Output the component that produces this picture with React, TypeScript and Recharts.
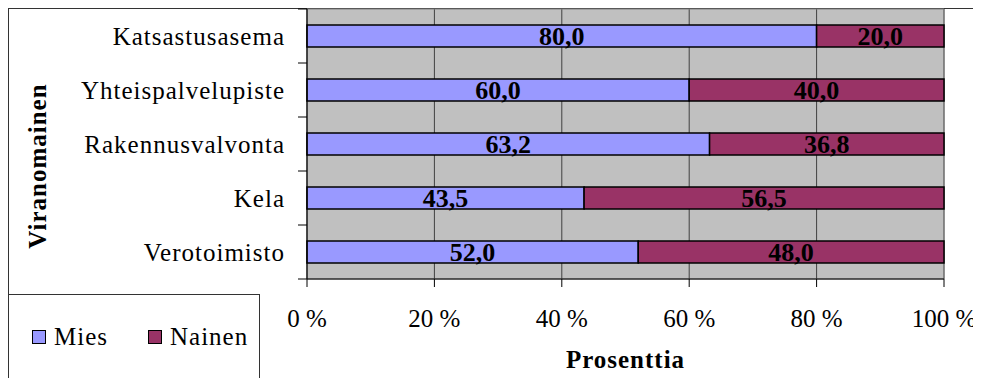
import React from 'react';
import {
  BarChart,
  Bar,
  XAxis,
  YAxis,
  CartesianGrid,
  Legend,
  LabelList,
  ReferenceArea,
  Label,
} from 'recharts';

const categories = ['Katsastusasema', 'Yhteispalvelupiste', 'Rakennusvalvonta', 'Kela', 'Verotoimisto'];
const mies = [80.0, 60.0, 63.2, 43.5, 52.0];
const nainen = [20.0, 40.0, 36.8, 56.5, 48.0];
const xTicks = [0, 20, 40, 60, 80, 100];

const SERIES = [
  { key: 'Mies', color: '#9999FF' },
  { key: 'Nainen', color: '#993366' },
];

const FONT = '"Liberation Serif", "Times New Roman", serif';

const data = categories.map((name, i) => ({ name, Mies: mies[i], Nainen: nainen[i] }));

const fmt = (v: number) => v.toFixed(1).replace('.', ',');

// category labels plus Excel-style tick marks between categories
function CategoryTick(props: any) {
  const { x, y, payload, index } = props;
  const off = payload.offset ?? 0;
  return (
    <g>
      <text
        x={x}
        y={y}
        textAnchor="end"
        dominantBaseline="central"
        fontSize={25}
        letterSpacing={1}
        fill="#000"
        fontFamily={FONT}
      >
        {payload.value}
      </text>
      <line x1={x + 13} x2={x + 22} y1={y - off} y2={y - off} stroke="#000" />
      {index === categories.length - 1 && (
        <line x1={x + 13} x2={x + 22} y1={y + off} y2={y + off} stroke="#000" />
      )}
    </g>
  );
}

function LegendBox() {
  return (
    <div
      style={{
        width: 252,
        height: 100,
        border: '1px solid #333',
        boxSizing: 'border-box',
        position: 'relative',
        fontFamily: FONT,
        fontSize: 25,
        background: '#fff',
      }}
    >
      {SERIES.map((s, i) => (
        <div
          key={s.key}
          style={{ position: 'absolute', left: i === 0 ? 23 : 139, top: 22, display: 'flex', alignItems: 'center' }}
        >
          <span
            style={{
              display: 'inline-block',
              width: 14,
              height: 14,
              background: s.color,
              border: '1.5px solid #000',
              boxSizing: 'border-box',
              marginRight: 8,
            }}
          />
          <span style={{ lineHeight: '40px', letterSpacing: 1 }}>{s.key}</span>
        </div>
      ))}
    </div>
  );
}

function YTitle(props: any) {
  const { viewBox } = props;
  const cx = viewBox.x + 29;
  const cy = viewBox.y + viewBox.height / 2 + 22;
  return (
    <text
      x={cx}
      y={cy}
      transform={`rotate(-90, ${cx}, ${cy})`}
      textAnchor="middle"
      dominantBaseline="central"
      fontSize={25}
      fontWeight="bold"
      letterSpacing={1}
      fontFamily={FONT}
      fill="#000"
    >
      Viranomainen
    </text>
  );
}

export default function App() {
  return (
    <div style={{ position: 'relative', width: 973, height: 370 }}>
      <style>{'html,body{overflow:hidden} .recharts-surface{overflow:visible}'}</style>
      <BarChart
        width={973}
        height={370}
        data={data}
        layout="vertical"
        margin={{ top: 1, right: 37, bottom: 0, left: 0 }}
        barSize={22}
        style={{ fontFamily: FONT }}
      >
        <rect x={0.5} y={0.5} width={1200} height={500} fill="none" stroke="#333" />
        <CartesianGrid horizontal={false} fill="#C0C0C0" stroke="#404040" />
        <ReferenceArea x1={0} x2={100} fill="none" stroke="#808080" ifOverflow="visible" />
        <XAxis
          type="number"
          domain={[0, 100]}
          ticks={xTicks}
          tickFormatter={(v: number) => `${v} %`}
          tickSize={8}
          tickMargin={22}
          tick={{ fontSize: 25, fill: '#000', fontFamily: FONT }}
          axisLine={{ stroke: '#000' }}
          tickLine={{ stroke: '#000' }}
          height={99}
        >
          <Label
            value="Prosenttia"
            position="insideBottom"
            offset={10}
            style={{ fontSize: 25, fontWeight: 'bold', fill: '#000', fontFamily: FONT, letterSpacing: 1 }}
          />
        </XAxis>
        <YAxis
          type="category"
          dataKey="name"
          width={299}
          tickLine={false}
          tickSize={9}
          tickMargin={13}
          tick={<CategoryTick />}
          axisLine={{ stroke: '#000' }}
          interval={0}
        >
          <Label content={<YTitle />} />
        </YAxis>
        <Legend
          layout="vertical"
          align="center"
          verticalAlign="middle"
          content={<LegendBox />}
          wrapperStyle={{ position: 'absolute', left: 0, top: 286, width: 252, height: 100 }}
        />
        {SERIES.map((s) => (
          <Bar
            key={s.key}
            dataKey={s.key}
            stackId="a"
            fill={s.color}
            stroke="#000"
            strokeWidth={1.5}
            isAnimationActive={false}
          >
            <LabelList
              dataKey={s.key}
              position="center"
              formatter={(v: any) => fmt(Number(v))}
              style={{ fontSize: 26, fontWeight: 'bold', fill: '#000', fontFamily: FONT }}
            />
          </Bar>
        ))}
      </BarChart>
    </div>
  );
}
